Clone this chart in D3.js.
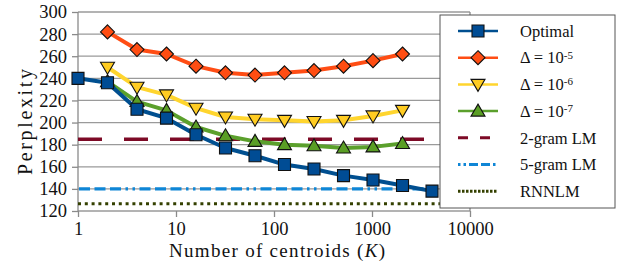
<!DOCTYPE html>
<html>
<head>
<meta charset="utf-8">
<script src="https://cdn.jsdelivr.net/npm/d3@7"></script>
</head>
<body style="margin:0;background:#fff">
<svg width="620" height="264" font-family="Liberation Serif"></svg>
<script>
// data
const centroids = [1, 2, 4, 8, 16, 32, 64, 128, 256, 512, 1024, 2048, 4096];
const optimal   = [240, 236, 212, 204, 189, 177, 170, 162, 158, 152, 148, 143, 138];
const delta5    = [null, 282, 266, 262, 251, 245, 243, 245, 247, 251, 256, 262, null];
const delta6    = [null, 250, 232, 225, 213, 205, 203, 202, 201, 202, 206, 211, null];
const delta7    = [null, 237, 219, 211, 196, 188, 183, 180, 179, 177, 178, 181, null];
const bigramLM  = 185;
const fivegramLM = 140;
const rnnlm     = 126.5;
const xTicks = [1, 10, 100, 1000, 10000];
const yTicks = [120, 140, 160, 180, 200, 220, 240, 260, 280, 300];

const FONT = "Liberation Serif";
const svg = d3.select("svg");
const x = d3.scaleLog().domain([1, 10000]).range([78, 470]);
const y = d3.scaleLinear().domain([120, 300]).range([211, 12]);

// grid
svg.append("g").selectAll("line").data(yTicks).join("line")
    .attr("x1", 78).attr("x2", 470)
    .attr("y1", d => y(d)).attr("y2", d => y(d))
    .attr("stroke", "#9a9a9a").attr("stroke-width", 1.3);

// frame lines (left axis + right border)
svg.append("line").attr("x1", 78).attr("x2", 78).attr("y1", 12).attr("y2", 211)
    .attr("stroke", "#8a8a8a").attr("stroke-width", 1.3);
svg.append("line").attr("x1", 470).attr("x2", 470).attr("y1", 12).attr("y2", 211)
    .attr("stroke", "#8a8a8a").attr("stroke-width", 1.3);

// axes
const yAxis = svg.append("g").attr("transform", "translate(78,0)")
    .call(d3.axisLeft(y).tickValues(yTicks).tickSize(6).tickPadding(5));
const xAxis = svg.append("g").attr("transform", "translate(0,211)")
    .call(d3.axisBottom(x).tickValues(xTicks).tickFormat(d3.format("d")).tickSize(6).tickPadding(5));
[yAxis, xAxis].forEach(g => {
    g.attr("font-family", FONT).attr("font-size", 18.5);
    g.select(".domain").remove();
    g.selectAll(".tick line").attr("stroke", "#8a8a8a").attr("stroke-width", 1.3);
    g.selectAll(".tick text").attr("fill", "#111").attr("font-family", FONT);
});

// axis titles (stretched a bit to the wider Computer Modern widths)
svg.append("text").attr("transform", "translate(32,122) rotate(-90)")
    .attr("text-anchor", "middle").attr("font-family", FONT).attr("font-size", 20)
    .attr("textLength", 106).attr("lengthAdjust", "spacing")
    .attr("fill", "#111").text("Perplexity");
const xt = svg.append("text").attr("x", 277).attr("y", 257)
    .attr("text-anchor", "middle").attr("font-family", FONT).attr("font-size", 19)
    .attr("textLength", 216).attr("lengthAdjust", "spacing")
    .attr("fill", "#111");
xt.append("tspan").text("Number of centroids (");
xt.append("tspan").attr("font-style", "italic").text("K");
xt.append("tspan").text(")");

// reference lines
const refs = [
    { name: "2-gram LM", value: bigramLM, color: "#7d0a26", width: 3.5, dash: "24,22" },
    { name: "5-gram LM", value: fivegramLM, color: "#0f86d6", width: 3.3,
      dash: "2.5,4.5,2.5,4.5,11,4.5,11,4.5,11,4.5", offset: 13 },
    { name: "RNNLM", value: rnnlm, color: "#344000", width: 3, dash: "3,3.8" }
];
refs.forEach(r => {
    svg.append("line")
        .attr("x1", x(1)).attr("x2", x(10000))
        .attr("y1", y(r.value)).attr("y2", y(r.value))
        .attr("stroke", r.color).attr("stroke-width", r.width)
        .attr("stroke-dasharray", r.dash)
        .attr("stroke-dashoffset", r.offset || 0);
});

// marker shapes
const shapes = {
    square:  "M-6,-6L6,-6L6,6L-6,6Z",
    diamond: "M0,-7L7,0L0,7L-7,0Z",
    down:    "M-7,-5L7,-5L0,7Z",
    up:      "M0,-7L7,5L-7,5Z"
};

const series = [
    { name: "d5", values: delta5, line: "#ff4d14", fill: "#ff4d12", shape: "diamond" },
    { name: "d6", values: delta6, line: "#ffd52e", fill: "#ffcc22", shape: "down" },
    { name: "d7", values: delta7, line: "#5ba02c", fill: "#5a9e25", shape: "up" },
    { name: "Optimal", values: optimal, line: "#004f90", fill: "#004c94", shape: "square" }
];

const line = d3.line()
    .defined(d => d.v !== null)
    .x(d => x(d.k)).y(d => y(d.v));

series.forEach(s => {
    const pts = centroids.map((k, i) => ({ k: k, v: s.values[i] }));
    svg.append("path").datum(pts)
        .attr("d", line)
        .attr("fill", "none").attr("stroke", s.line).attr("stroke-width", 4)
        .attr("stroke-linejoin", "round");
    svg.append("g").selectAll("path").data(pts.filter(d => d.v !== null)).join("path")
        .attr("transform", d => `translate(${x(d.k)},${y(d.v)})`)
        .attr("d", shapes[s.shape])
        .attr("fill", s.fill).attr("stroke", "#111").attr("stroke-width", 1.1);
});

// legend
const lg = svg.append("g");
lg.append("rect").attr("x", 440).attr("y", 15).attr("width", 175).attr("height", 193)
    .attr("fill", "#fff").attr("stroke", "#555").attr("stroke-width", 1);

const legendItems = [
    { label: ["Optimal"], color: series[3].line, fill: series[3].fill, shape: "square", width: 2.5 },
    { label: ["Δ = 10", "-5"], color: series[0].line, fill: series[0].fill, shape: "diamond", width: 2.5 },
    { label: ["Δ = 10", "-6"], color: series[1].line, fill: series[1].fill, shape: "down", width: 2.5 },
    { label: ["Δ = 10", "-7"], color: series[2].line, fill: series[2].fill, shape: "up", width: 2.5 },
    { label: ["2-gram LM"], color: refs[0].color, dash: "10,12", width: 3 },
    { label: ["5-gram LM"], color: refs[1].color, dash: "2.5,3,2.5,3,9,3,9,3", width: 3 },
    { label: ["RNNLM"], color: refs[2].color, dash: "2.5,1.5", width: 3 }
];

legendItems.forEach((it, i) => {
    const cy = 31 + i * 26.7;
    lg.append("line").attr("x1", 458).attr("x2", 498).attr("y1", cy).attr("y2", cy)
        .attr("stroke", it.color).attr("stroke-width", it.width)
        .attr("stroke-dasharray", it.dash || null);
    if (it.shape) {
        lg.append("path").attr("transform", `translate(478,${cy})`)
            .attr("d", shapes[it.shape])
            .attr("fill", it.fill).attr("stroke", "#111").attr("stroke-width", 1.1);
    }
    const t = lg.append("text").attr("x", 520).attr("y", cy).attr("dy", "0.35em")
        .attr("font-family", FONT).attr("font-size", 16.5).attr("fill", "#111");
    t.append("tspan").text(it.label[0]);
    if (it.label[1]) {
        t.append("tspan").attr("dy", "-0.45em").attr("font-size", 11).text(it.label[1]);
    }
});
</script>
</body>
</html>
